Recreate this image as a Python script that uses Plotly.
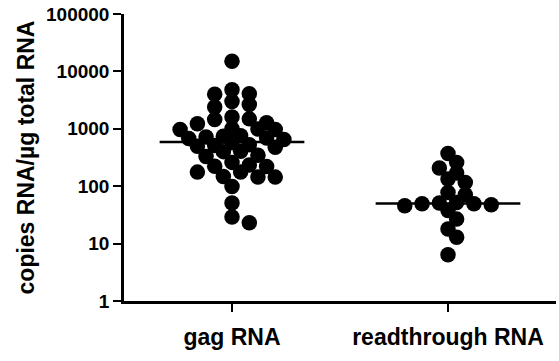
import numpy as np
import plotly.graph_objects as go

categories = ["gag RNA", "readthrough RNA"]
gag_values = [15000, 4100, 4800, 4000, 3000, 2400, 2650, 1490, 1610, 1270, 1450, 1220,
              1000, 970, 970, 990, 680, 740, 720, 690, 760, 570, 650, 510, 475, 495,
              530, 405, 400, 345, 330, 260, 220, 222, 234, 177, 148, 144, 145, 176,
              99, 51, 29, 23]
readthrough_values = [370, 260, 207, 170, 133, 116, 78, 71, 52, 49.5, 47.5, 45.5,
                      49.5, 51, 37.7, 26.7, 17.9, 12.9, 6.4]
gag_median = 590
readthrough_median = 50
y_tick_values = [1, 10, 100, 1000, 10000, 100000]
y_tick_labels = ["1", "10", "100", "1000", "10000", "100000"]

FONT = "Arial, Liberation Sans, Helvetica, sans-serif"
PX_PER_CAT = 216.0      # horizontal pixels per category unit
PX_PER_DECADE = 57.3    # vertical pixels per decade
STEP_PX = 8.65          # horizontal grid step of the swarm
MIN_DIST_PX = 10.5      # allowed closest centre distance


def swarm_offsets(values):
    """Greedy beeswarm layout on a half-marker grid, returned in category units."""
    ys = np.log10(np.asarray(values, dtype=float)) * PX_PER_DECADE
    order = np.argsort(-ys)
    placed = []
    offsets = np.zeros(len(ys))
    for i in order:
        y = ys[i]
        for k in range(0, 40):
            cands = [0] if k == 0 else [k, -k]
            done = False
            for c in cands:
                x = c * STEP_PX
                ok = all((x - px) ** 2 + (y - py) ** 2 >= MIN_DIST_PX ** 2 for px, py in placed)
                if ok:
                    offsets[i] = x / PX_PER_CAT
                    placed.append((x, y))
                    done = True
                    break
            if done:
                break
    return offsets


fig = go.Figure()
for ci, (vals, med) in enumerate([(gag_values, gag_median), (readthrough_values, readthrough_median)]):
    offs = swarm_offsets(vals)
    fig.add_trace(go.Scatter(
        x=ci + offs, y=vals, mode="markers",
        marker=dict(size=15.5, color="black", line=dict(width=0)),
        showlegend=False, hoverinfo="y", cliponaxis=False))
    fig.add_trace(go.Scatter(
        x=[ci - 0.335, ci + 0.335], y=[med, med], mode="lines",
        line=dict(color="black", width=2.5), showlegend=False, hoverinfo="skip"))

fig.update_layout(
    width=559, height=361,
    margin=dict(l=124, r=3, t=14, b=60),
    paper_bgcolor="white", plot_bgcolor="white",
    font=dict(family=FONT, color="black"),
)
fig.update_xaxes(
    range=[-0.5, 1.5], tickmode="array", tickvals=[0, 1], ticktext=categories,
    showline=True, linecolor="black", linewidth=2.5, ticks="outside", ticklen=8,
    tickwidth=2, tickcolor="black", showgrid=False, zeroline=False, automargin=False,
    ticklabelstandoff=6, ticklabeloverflow="allow",
    tickfont=dict(family=FONT, size=23, color="black", weight="bold"),
)
fig.update_yaxes(
    type="log", range=[0, 5], tickmode="array", tickvals=y_tick_values,
    ticktext=y_tick_labels, showline=True, linecolor="black", linewidth=2.5,
    ticks="outside", ticklen=8, tickwidth=2, tickcolor="black", showgrid=False,
    zeroline=False, automargin=False, ticklabeloverflow="allow",
    tickfont=dict(family=FONT, size=19, color="black", weight="bold"),
    title=dict(text="copies RNA/µg total RNA", standoff=5,
               font=dict(family=FONT, size=23, color="black", weight="bold")),
)
fig.write_html("out.html", config={"displayModeBar": False},
               post_script="document.body.style.margin='0';")
